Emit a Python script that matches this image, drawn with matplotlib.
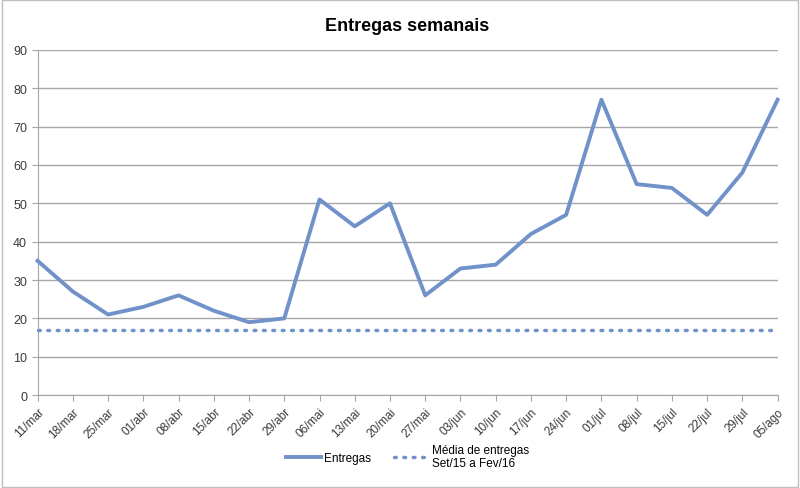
import matplotlib.pyplot as plt
import matplotlib.patches as mpatches
import numpy as np

# ------------------------------
# Data
# ------------------------------
semanas = ['11/mar', '18/mar', '25/mar', '01/abr', '08/abr', '15/abr', '22/abr',
           '29/abr', '06/mai', '13/mai', '20/mai', '27/mai', '03/jun', '10/jun',
           '17/jun', '24/jun', '01/jul', '08/jul', '15/jul', '22/jul', '29/jul',
           '05/ago']
entregas = [35, 27, 21, 23, 26, 22, 19, 20, 51, 44, 50, 26, 33, 34, 42, 47,
            77, 55, 54, 47, 58, 77]
media_entregas = [17] * len(semanas)
y_ticks = [0, 10, 20, 30, 40, 50, 60, 70, 80, 90]

plt.rcParams['font.family'] = ['Liberation Sans', 'DejaVu Sans']

COR = '#7092C9'
CINZA = '#A6A6A6'

fig = plt.figure(figsize=(8, 4.89), dpi=100)
ax = fig.add_axes([0.047, 0.19, 0.925, 0.706])

x = np.arange(len(semanas))
ax.plot(x, entregas, color=COR, lw=2.8, solid_joinstyle='round',
        label='Entregas', zorder=3, clip_on=False)
ax.plot(x, media_entregas, color=COR, lw=2.5, linestyle=(0, (0.5, 2.2)),
        dash_capstyle='round', label='Média de entregas\nSet/15 a Fev/16',
        zorder=3, clip_on=False)

ax.set_xlim(0, len(semanas) - 1)
ax.set_ylim(0, 90)
ax.set_yticks(y_ticks)
ax.set_xticks(x)
ax.set_xticklabels(semanas, rotation=45, ha='right', rotation_mode='anchor',
                   fontsize=8.5, color='#3a3a3a')
ax.tick_params(axis='y', labelsize=9, colors='#3a3a3a', length=4, color=CINZA)
ax.tick_params(axis='x', length=4, color=CINZA)
ax.yaxis.grid(True, color=CINZA, lw=1)
ax.set_axisbelow(True)
for s in ['top', 'right']:
    ax.spines[s].set_visible(False)
for s in ['left', 'bottom']:
    ax.spines[s].set_color(CINZA)

ax.set_title('Entregas semanais', fontsize=13, fontweight='bold', pad=14)

leg = ax.legend(loc='upper center', bbox_to_anchor=(0.5, -0.11), ncol=2,
                frameon=False, fontsize=8.5, handlelength=3, handletextpad=0.2,
                columnspacing=2)

# chart border
fig.patches.append(mpatches.Rectangle((0.002, 0.002), 0.996, 0.996,
                                      transform=fig.transFigure, fill=False,
                                      edgecolor='#BFBFBF', lw=1))

plt.savefig('out.png', dpi=100)
